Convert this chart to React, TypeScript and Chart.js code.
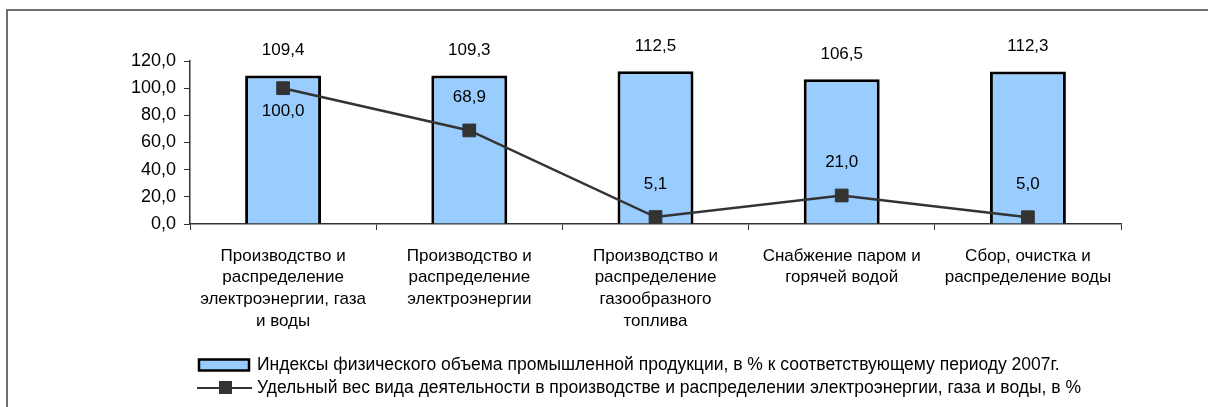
import React, { useEffect, useRef } from "react";
import { Chart, registerables } from "chart.js";

Chart.register(...registerables);

const categories: string[][] = [
  ["Производство и", "распределение", "электроэнергии, газа", "и воды"],
  ["Производство и", "распределение", "электроэнергии"],
  ["Производство и", "распределение", "газообразного", "топлива"],
  ["Снабжение паром и", "горячей водой"],
  ["Сбор, очистка и", "распределение воды"],
];
const indexValues: number[] = [109.4, 109.3, 112.5, 106.5, 112.3];
const shareValues: number[] = [100.0, 68.9, 5.1, 21.0, 5.0];
const indexLabel =
  "Индексы физического объема промышленной продукции, в % к соответствующему периоду 2007г.";
const shareLabel =
  "Удельный вес вида деятельности в производстве и распределении электроэнергии, газа и воды, в %";
const yTicks: number[] = [0, 20, 40, 60, 80, 100, 120];

const FONT = "'Liberation Sans', Arial, sans-serif";
const fmt = (v: number) => v.toFixed(1).replace(".", ",");

const decorPlugin = {
  id: "decor",
  beforeDraw(chart: any) {
    const ctx = chart.ctx;
    ctx.save();
    ctx.fillStyle = "#ffffff";
    ctx.fillRect(0, 0, chart.width, chart.height);
    ctx.strokeStyle = "#707070";
    ctx.lineWidth = 2;
    ctx.strokeRect(7, 10, chart.width + 50, chart.height + 50);
    ctx.restore();
  },
  afterDatasetsDraw(chart: any) {
    const ctx = chart.ctx;
    ctx.save();
    ctx.font = `17px ${FONT}`;
    ctx.fillStyle = "#000";
    ctx.textAlign = "center";
    ctx.textBaseline = "middle";
    const barMeta = chart.getDatasetMeta(0);
    barMeta.data.forEach((el: any, i: number) => {
      ctx.fillText(fmt(indexValues[i]), el.x, el.y - 25);
    });
    const lineMeta = chart.getDatasetMeta(1);
    lineMeta.data.forEach((el: any, i: number) => {
      const dy = i === 0 ? 23 : -33;
      ctx.fillText(fmt(shareValues[i]), el.x, el.y + dy);
    });
    ctx.restore();
  },
  afterDraw(chart: any) {
    const ctx = chart.ctx;
    ctx.save();
    // legend item 1: bar
    ctx.fillStyle = "#99CCFF";
    ctx.strokeStyle = "#000";
    ctx.lineWidth = 2.5;
    ctx.fillRect(199, 359.5, 50, 11);
    ctx.strokeRect(199, 359.5, 50, 11);
    // legend item 2: line with square marker
    ctx.strokeStyle = "#333333";
    ctx.lineWidth = 2;
    ctx.beginPath();
    ctx.moveTo(197, 388);
    ctx.lineTo(252, 388);
    ctx.stroke();
    ctx.fillStyle = "#333333";
    ctx.fillRect(219, 381, 13, 13);
    ctx.font = `17.5px ${FONT}`;
    ctx.fillStyle = "#000";
    ctx.textAlign = "left";
    ctx.textBaseline = "middle";
    ctx.fillText(indexLabel, 257, 365);
    ctx.fillText(shareLabel, 257, 388);
    ctx.restore();
  },
};

export default function App() {
  const ref = useRef<HTMLCanvasElement | null>(null);
  useEffect(() => {
    if (!ref.current) return;
    const chart = new Chart(ref.current, {
      type: "bar",
      data: {
        labels: categories,
        datasets: [
          {
            type: "bar",
            label: indexLabel,
            data: indexValues,
            backgroundColor: "#99CCFF",
            borderColor: "#000000",
            borderWidth: 3,
            categoryPercentage: 1,
            barPercentage: 0.408,
            order: 1,
          },
          {
            type: "line",
            label: shareLabel,
            data: shareValues,
            borderColor: "#333333",
            borderWidth: 2.5,
            backgroundColor: "#333333",
            pointStyle: "rect",
            pointRadius: 9,
            pointBorderWidth: 1,
            pointBorderColor: "#333333",
            pointBackgroundColor: "#333333",
            tension: 0,
            order: 0,
          },
        ] as any,
      },
      options: {
        responsive: false,
        animation: false,
        layout: { padding: { left: 0, top: 61, right: 87, bottom: 0 } },
        plugins: {
          legend: { display: false },
          tooltip: { enabled: false },
          title: { display: false },
        },
        scales: {
          x: {
            offset: true,
            grid: {
              offset: true,
              drawOnChartArea: false,
              drawTicks: true,
              tickLength: 6,
              color: "#333333",
            },
            border: { display: true, color: "#333333", width: 1.5 },
            ticks: {
              autoSkip: false,
              maxRotation: 0,
              minRotation: 0,
              padding: 15,
              color: "#000",
              font: { family: FONT, size: 17, lineHeight: 1.28 },
            },
            afterFit(scale: any) {
              scale.height = 407 - 224;
            },
          },
          y: {
            min: 0,
            max: 120,
            afterBuildTicks(scale: any) {
              scale.ticks = yTicks.map((v) => ({ value: v }));
            },
            grid: {
              drawOnChartArea: false,
              drawTicks: true,
              tickLength: 6,
              color: "#333333",
            },
            border: { display: true, color: "#333333", width: 1.5 },
            ticks: {
              padding: 8,
              color: "#000",
              font: { family: FONT, size: 18 },
              callback: (v: any) => fmt(Number(v)),
            },
            afterFit(scale: any) {
              scale.width = 190;
            },
          },
        },
      },
      plugins: [decorPlugin],
    });
    return () => chart.destroy();
  }, []);
  return (
    <div style={{ position: "fixed", left: 0, top: 0, width: 1208, height: 407 }}>
      <canvas ref={ref} width={1208} height={407} style={{ display: "block" }} />
    </div>
  );
}
